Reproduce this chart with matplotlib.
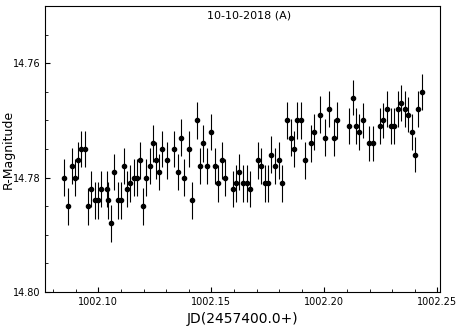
import matplotlib
matplotlib.use("Agg")
import matplotlib.pyplot as plt
from matplotlib.ticker import MultipleLocator, FormatStrFormatter

# === DATA ===
jd = [1002.0848, 1002.0867, 1002.0885, 1002.0898, 1002.0912, 1002.0925, 1002.0940,
      1002.0954, 1002.0969, 1002.0984, 1002.0999, 1002.1013, 1002.1040, 1002.1043,
      1002.1056, 1002.1071, 1002.1086, 1002.1100, 1002.1115, 1002.1128, 1002.1141,
      1002.1157, 1002.1170, 1002.1184, 1002.1199, 1002.1212, 1002.1227, 1002.1241,
      1002.1255, 1002.1270, 1002.1283, 1002.1302, 1002.1336, 1002.1351, 1002.1366,
      1002.1379, 1002.1400, 1002.1414, 1002.1435, 1002.1450, 1002.1464, 1002.1482,
      1002.1500, 1002.1516, 1002.1531, 1002.1546, 1002.1561, 1002.1594, 1002.1609,
      1002.1623, 1002.1641, 1002.1657, 1002.1672, 1002.1705, 1002.1721, 1002.1736,
      1002.1750, 1002.1765, 1002.1783, 1002.1798, 1002.1813, 1002.1834, 1002.1851,
      1002.1865, 1002.1880, 1002.1897, 1002.1915, 1002.1940, 1002.1955, 1002.1980,
      1002.2001, 1002.2019, 1002.2041, 1002.2057, 1002.2110, 1002.2125, 1002.2139,
      1002.2154, 1002.2169, 1002.2198, 1002.2213, 1002.2245, 1002.2260, 1002.2275,
      1002.2293, 1002.2309, 1002.2325, 1002.2340, 1002.2355, 1002.2371, 1002.2387,
      1002.2401, 1002.2415, 1002.2431]

rmag = [14.780, 14.785, 14.778, 14.780, 14.777, 14.775, 14.775, 14.785, 14.782, 14.784,
        14.784, 14.782, 14.782, 14.784, 14.788, 14.779, 14.784, 14.784, 14.778, 14.782,
        14.781, 14.780, 14.780, 14.777, 14.785, 14.780, 14.778, 14.774, 14.777, 14.779,
        14.775, 14.777, 14.775, 14.779, 14.773, 14.780, 14.775, 14.784, 14.770, 14.778,
        14.774, 14.778, 14.772, 14.778, 14.781, 14.777, 14.780, 14.782, 14.781, 14.779,
        14.781, 14.781, 14.782, 14.777, 14.778, 14.781, 14.781, 14.776, 14.778, 14.777,
        14.781, 14.770, 14.773, 14.775, 14.770, 14.770, 14.777, 14.774, 14.772, 14.769,
        14.773, 14.768, 14.773, 14.770, 14.771, 14.766, 14.771, 14.772, 14.770, 14.774,
        14.774, 14.771, 14.770, 14.768, 14.771, 14.771, 14.768, 14.767, 14.768, 14.769,
        14.772, 14.776, 14.768, 14.765]

rerr = [0.0032] * 74 + [0.0031] * 20

title_text = "10-10-2018 (A)"

# === PLOT ===
fig = plt.figure(figsize=(4.63, 3.27), dpi=100)
ax = fig.add_axes([0.0972, 0.107, 0.853, 0.8747])

ax.errorbar(jd, rmag, yerr=rerr, fmt='o', color="black", ecolor="black",
            markersize=3, elinewidth=0.8, capsize=0)

ax.set_xlim(1002.0764, 1002.2511)
ax.set_ylim(14.80, 14.75)

ax.set_yticks([14.76, 14.78, 14.80])
ax.yaxis.set_major_formatter(FormatStrFormatter("%.2f"))
ax.yaxis.set_minor_locator(MultipleLocator(0.005))
ax.xaxis.set_major_locator(MultipleLocator(0.05))
ax.xaxis.set_major_formatter(FormatStrFormatter("%.2f"))
ax.xaxis.set_minor_locator(MultipleLocator(0.01))

ax.tick_params(which="both", direction="in", labelsize=7)
ax.tick_params(which="major", length=3.5, width=0.8)
ax.tick_params(which="minor", length=2, width=0.6)
for s in ax.spines.values():
    s.set_linewidth(0.8)

ax.set_xlabel("JD(2457400.0+)", fontsize=10)
ax.set_ylabel("R-Magnitude", fontsize=9)
ax.yaxis.set_label_coords(-0.077, 0.5)
ax.xaxis.set_label_coords(0.5, -0.07)

ax.text(0.516, 0.965, title_text, transform=ax.transAxes, fontsize=8,
        ha="center", va="center")

fig.savefig("out.png", dpi=100)
plt.close(fig)
